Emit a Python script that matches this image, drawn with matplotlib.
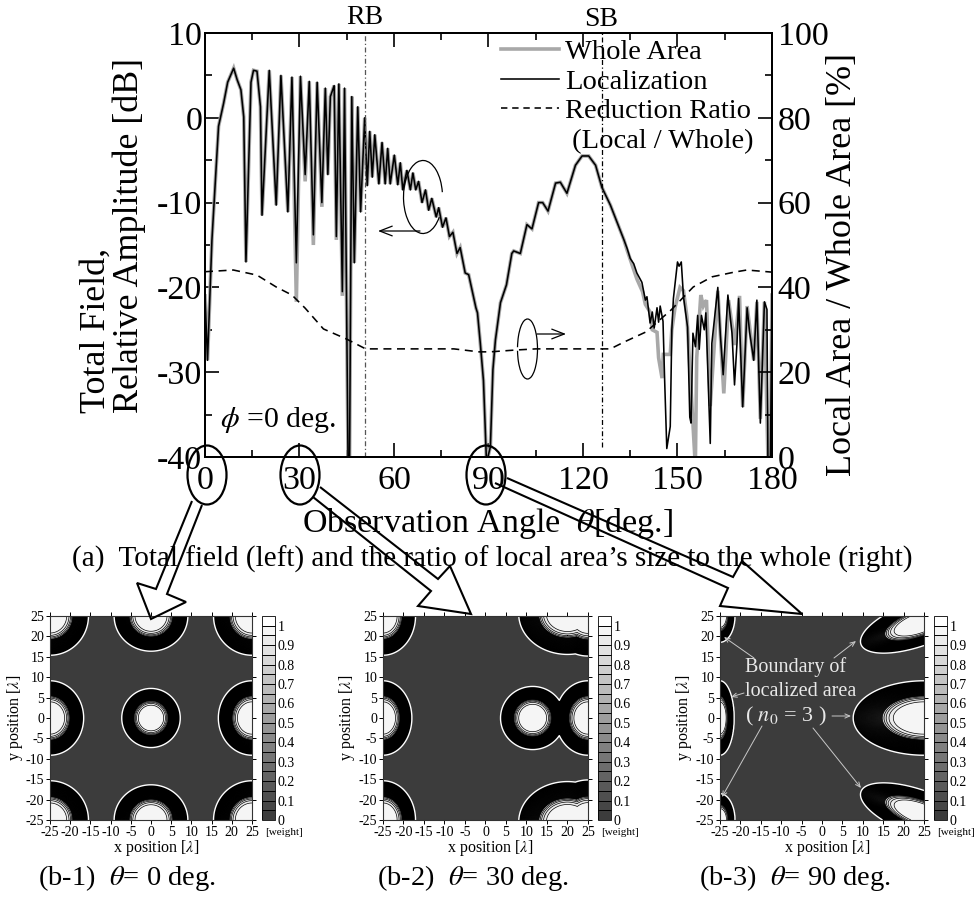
import numpy as np
import matplotlib
matplotlib.use("Agg")
import matplotlib.pyplot as plt
from matplotlib.lines import Line2D
from matplotlib.patches import Arc, Ellipse, Polygon

plt.rcParams['font.family'] = ['Liberation Serif', 'DejaVu Serif']
plt.rcParams['mathtext.fontset'] = 'stix'
plt.rcParams['axes.unicode_minus'] = False

W, H = 979, 897

# total field, localized array
local_theta = [0, 0.8, 2.2, 4.3, 5.9, 7.2, 9.1, 10.2, 11.4, 12.3, 13.0,
               14.6, 15.4, 16.5, 17.6, 18.1, 20.4, 22.6, 24.1, 26.3, 27.6, 29.0, 30.3,
               31.8, 33.1, 34.4, 35.6, 37.1, 38.2, 39.0, 39.8, 41.0, 41.7, 42.5, 43.6,
               44.3, 45.4, 45.9, 46.6, 47.4, 48.5, 49.4, 50.7, 51.5, 52.3, 53.1, 53.9,
               55.2, 56.2, 57.2, 58.0, 58.8, 60.1, 61.2, 62.0, 62.8, 64.1, 65.2, 66.0,
               66.9, 67.8, 68.9, 70.0, 71.0, 72.0, 73.4, 74.2, 75.4, 76.5, 77.6, 78.7,
               80.0, 81.0, 82.6, 83.7, 86.0, 86.5, 87.4, 88.4, 89.3, 89.8, 90.6, 91.4,
               92.2, 93.8, 95.7, 97.4, 98.0, 100.1, 101.2, 102.2, 103.8, 105.9, 107.2,
               108.9, 111.3, 112.8, 114.9, 117.6, 119.7, 121.8, 124.0, 126.0, 128.7,
               130.8, 133.0, 134.0, 135.0, 136.1, 137.1, 138.7, 139.8, 140.3, 141.3,
               142.0, 142.6, 143.5, 144.0, 144.5, 145.4, 145.9, 146.6, 147.7, 148.2,
               148.7, 150.0, 150.5, 151.2, 151.9, 153.2, 153.9, 154.3, 154.9, 155.7,
               156.4, 156.9, 157.6, 158.5, 159.0, 160.4, 160.9, 162.8, 163.6, 164.5,
               166.0, 167.3, 168.1, 168.9, 169.4, 170.7, 172.1, 172.9, 174.2, 175.2,
               176.3, 177.6, 178.4, 178.7, 179.5, 180]
local_db = [-21, -28.6, -14.4, -1, 1.7, 4.2, 5.85, 4.5, 3.3, 0.1, -17,
            4.2, 5.6, 5.5, 1.3, -11.5, 5.6, -10.3, 5, -11.1, 4.8, -17.1, 4.9,
            -6.7, 4.3, -13.8, 4.2, -10, 3.5, -6.7, 2.5, 3.8, -14, 4, -20.5,
            3.5, -40, -40, 2.5, -17.1, 1.3, -11.1, 0, -8, -1.6, -7, -2,
            -7.8, -2.9, -7.8, -3.6, -7.8, -4.4, -7.9, -5.3, -8.5, -6.2, -8.5, -6.5,
            -8.5, -7.5, -10, -8.5, -10.9, -9.5, -11.7, -10.6, -12.9, -11.8, -14, -13.5,
            -16, -15.3, -18.3, -18.5, -22.4, -23, -26.6, -31, -40, -40, -38.8, -29.7,
            -26.2, -21.8, -19.7, -16, -15.7, -16, -14.2, -12.6, -13.1, -10, -10,
            -11, -7.7, -7.6, -8.9, -5.6, -4.5, -4.5, -5.6, -8.2, -10.3,
            -12.3, -14.4, -15.4, -16.6, -17.2, -18.3, -19.4, -21.5, -21.1, -24.2,
            -22.9, -24.8, -22.4, -24.1, -22.2, -24, -30.7, -39, -36.4, -25,
            -21.3, -17, -17.5, -17, -21.1, -24.7, -35.3, -36, -25.4, -27,
            -23.3, -27.3, -23.3, -25, -23, -38.4, -26.6, -20, -25.6, -30.3,
            -20.9, -25.4, -31.5, -26.5, -21.3, -34.1, -22.4, -25.3, -28.6, -21.5,
            -36, -21.7, -22.6, -40, -40, -20.9]

# whole area: same as localized except at some nulls and past 133 deg
whole_null_theta = [29.0, 31.8, 34.4, 37.1, 41.7, 43.6]
whole_null_db = [-21.7, -7.5, -15, -10.5, -14.4, -21]
whole_tail_theta = [133.0, 134.0, 137.1, 138.9, 139.8, 141.3, 142.0, 143.5, 144.0, 145.1, 145.5,
                    147.7, 148.2, 149.2, 150.8, 151.9, 153.0, 154.3, 155.5, 155.7, 156.1, 157.4,
                    158.2, 159.2, 160.4, 162.8, 164.7, 166.2, 168.2, 169.7, 170.7, 172.1,
                    174.2, 175.2, 176.3, 177.6, 178.7, 179.5, 180]
whole_tail_db = [-14.4, -15.6, -19, -20.5, -22, -22.9, -25, -25.3, -28.3, -30.7, -27.9,
                 -27.9, -25, -22.4, -20, -20.4, -23.5, -32, -40, -40, -28.3, -20.9,
                 -22.2, -21.5, -34, -20.4, -32.5, -21.5, -26.8, -21, -34.1, -22.2,
                 -28.6, -21.7, -35.5, -21.7, -40, -40, -20.9]

# reduction ratio, right axis
ratio_theta = [0, 9, 16.5, 22.6, 27.6, 31.8, 37.6, 45, 51, 79, 87, 90.6, 98, 105, 128.7,
               133, 140, 148, 155, 161, 168, 172, 180]
ratio_pct = [43.7, 44.1, 42.9, 40.1, 38.2, 35.1, 30.2, 27.8, 25.5, 25.5, 24.8, 24.8, 25.2,
             25.5, 25.5, 27.1, 29.5, 34.7, 40.1, 42.5, 43.6, 44.1, 43.6]

rb_theta = 50.8
sb_theta = 125.9

# radial shape of a lobe: normalised radius -> weight
lobe_rho = [0, 0.38, 0.43, 0.49, 0.53, 0.56, 0.585, 1.0]
lobe_weight = [0.999, 0.99, 0.95, 0.9, 0.85, 0.8, 0.75, 0.0]

# lobes of each panel: centre x, centre y, semi x, semi y, tilt deg
lobes_b1 = [(0, 0, 7.3, 7.3, 0), (-25, 0, 8.4, 9.2, 0), (25, 0, 8.4, 9.2, 0),
            (0, 25, 9.2, 8.7, 0), (0, -25, 9.2, 8.7, 0),
            (-25, 25, 9.6, 9.7, 0), (25, 25, 9.6, 9.7, 0),
            (-25, -25, 9.6, 9.7, 0), (25, -25, 9.6, 9.7, 0)]
lobes_b2 = [(-25, 0, 7.1, 9.2, 0), (-25, 25, 8, 9.7, 0), (-25, -25, 8, 9.7, 0),
            (11.5, 0, 7.9, 7.8, 0), (25, 0, 8, 9.2, 0),
            (20, 25.5, 12, 10, 0), (25, 25, 9.6, 9.9, 0),
            (20, -25.5, 12, 10, 0), (25, -25, 9.6, 9.9, 0)]
lobes_b3 = [(-25, 0, 3.5, 9.2, 0), (-25, 25, 3.7, 6.5, 0), (-25, -25, 3.7, 6.5, 0),
            (25, 0, 17.5, 9.2, 0), (24, 23.3, 15.5, 5.6, 20), (24, -23.3, 15.5, 5.6, -20)]

panel_ticks = [-25, -20, -15, -10, -5, 0, 5, 10, 15, 20, 25]
panel_captions = ["(b-1)  $\\theta$= 0 deg.", "(b-2)  $\\theta$= 30 deg.", "(b-3)  $\\theta$= 90 deg."]


def px_axes(fig, x0, y0, x1, y1, **kw):
    return fig.add_axes([x0 / W, 1 - y1 / H, (x1 - x0) / W, (y1 - y0) / H], **kw)


def weight_field(lobes, X, Y):
    z = np.zeros_like(X)
    for cx, cy, a, b, tilt in lobes:
        t = np.radians(tilt)
        u = (X - cx) * np.cos(t) + (Y - cy) * np.sin(t)
        v = -(X - cx) * np.sin(t) + (Y - cy) * np.cos(t)
        rho = np.sqrt((u / a) ** 2 + (v / b) ** 2)
        z = np.maximum(z, np.interp(rho, lobe_rho, lobe_weight, right=0))
    return z


fig = plt.figure(figsize=(W / 100, H / 100), dpi=100)

# top chart
ax = px_axes(fig, 205, 33, 772, 457)
ax.set_xlim(0, 180)
ax.set_ylim(-40, 10)
whole_theta = [t for t in local_theta if t < 133] + whole_tail_theta
whole_db = [d for t, d in zip(local_theta, local_db) if t < 133] + whole_tail_db
for t, d in zip(whole_null_theta, whole_null_db):
    whole_db[whole_theta.index(t)] = d
ax.plot(whole_theta, whole_db, color='#a8a8a8', lw=2.6, solid_joinstyle='miter', label='Whole Area')
ax.plot(local_theta, local_db, color='black', lw=1.15, label='Localization')
ax.vlines(rb_theta, -40, 10, color='#555555', lw=0.9, linestyles=(0, (4, 2, 1, 2)))
ax.vlines(sb_theta, -38.8, 10, color='black', lw=0.9, linestyles=(0, (4, 2, 1, 2)))
ax.set_xticks(range(0, 181, 30))
ax.set_xticks(range(15, 180, 30), minor=True)
ax.set_yticks(range(-40, 11, 10))
ax.set_yticks(range(-35, 10, 10), minor=True)
ax.tick_params(which='major', direction='in', length=10, width=1.2, labelsize=24.5, top=True)
ax.tick_params(which='minor', direction='in', length=4.8, width=1.2, top=True)
ax.tick_params(axis='x', pad=6)
ax.tick_params(axis='y', pad=2)
for s in ax.spines.values():
    s.set_linewidth(1.4)

ax2 = ax.twinx()
ax2.set_ylim(0, 100)
ax2.plot(ratio_theta, ratio_pct, color='black', lw=1.15, ls=(0, (5, 3.5)), label='Reduction Ratio')
ax2.set_yticks(range(0, 101, 20))
ax2.set_yticks(range(10, 100, 20), minor=True)
ax2.tick_params(which='major', direction='in', length=10, width=1.2, labelsize=24.5, pad=4)
ax2.tick_params(which='minor', direction='in', length=4.8, width=1.2)
for s in ax2.spines.values():
    s.set_linewidth(1.4)

handles = [Line2D([], [], color='#a8a8a8', lw=2.6),
           Line2D([], [], color='black', lw=1.15),
           Line2D([], [], color='black', lw=1.15, ls=(0, (4, 3))),
           Line2D([], [], color='none')]
ax2.legend(handles, ['Whole Area', 'Localization', 'Reduction Ratio', ' (Local / Whole)'],
           loc='upper left', bbox_to_anchor=((498 - 205) / 567, 0.992), frameon=False, fontsize=20.5,
           labelspacing=0.13, handlelength=2.05, handletextpad=0.22, borderpad=0.1, borderaxespad=0)

# bottom panels
grid = np.linspace(-25, 25, 501)
X, Y = np.meshgrid(grid, grid)
fill_levels = np.arange(0, 1.0501, 0.05)
fill_colors = [str(g) for g in np.linspace(0.235, 1, len(fill_levels) - 1)]
line_levels = np.concatenate([np.arange(0.03, 0.75, 0.012), np.arange(0.75, 0.96, 0.05)])

panel_boxes = [(50, 252, 262, 275), (383, 588, 598, 611), (720, 924, 934, 947)]
for (x0, x1, c0, c1), lobes in zip(panel_boxes, [lobes_b1, lobes_b2, lobes_b3]):
    a = px_axes(fig, x0, 616, x1, 820)
    z = weight_field(lobes, X, Y)
    cs = a.contourf(X, Y, z, levels=fill_levels, colors=fill_colors)
    a.contour(X, Y, z, levels=line_levels, colors='black', linewidths=0.5)
    a.contour(X, Y, z, levels=[0.015], colors='white', linewidths=1.0)
    a.set_xticks(panel_ticks)
    a.set_yticks(panel_ticks)
    a.tick_params(direction='out', length=3, width=0.7, labelsize=10, pad=1, top=True, right=True)
    a.set_xlabel('x position [$\\lambda$]', fontsize=11.5, labelpad=-1)
    a.set_ylabel('y position [$\\lambda$]', fontsize=11.5, labelpad=0)
    a.xaxis.set_label_coords(0.525, -0.087)
    a.yaxis.set_label_coords(-0.125, 0.5)
    for s in a.spines.values():
        s.set_linewidth(0.8)
        s.set_color('#333333')
    cax = px_axes(fig, c0, 616, c1, 820)
    cb = fig.colorbar(cs, cax=cax, ticks=np.arange(0, 1.01, 0.1), drawedges=True)
    cb.ax.set_yticklabels(['0', '0.1', '0.2', '0.3', '0.4', '0.5', '0.6', '0.7', '0.8', '0.9', '1'])
    cb.ax.tick_params(length=0, labelsize=10, pad=2)
    cb.dividers.set_color('black')
    cb.dividers.set_linewidth(0.7)
    cb.outline.set_linewidth(0.6)
    fig.text((c0 + 22) / W, 1 - 832 / H, '[weight]', fontsize=8, ha='center', va='center')

# overlay in pixel coordinates for the hand drawn marks and text
ov = fig.add_axes([0, 0, 1, 1], facecolor='none')
ov.set_xlim(0, W)
ov.set_ylim(H, 0)
ov.axis('off')

for cx in [207, 300, 486]:
    ov.add_patch(Ellipse((cx, 475), 39, 59, fill=False, ec='black', lw=1.6))

arrow_outlines = [
    [(192, 501), (156, 589), (137, 583), (151, 619), (186, 602), (167, 594), (202, 505)],
    [(320, 487), (438, 579), (450, 566), (471, 614), (418, 606), (431, 591), (313, 497)],
    [(507, 478), (733, 577), (742, 561), (802, 614), (720, 606), (728, 588), (495, 483)],
]
for pts in arrow_outlines:
    ov.add_patch(Polygon(pts, closed=False, fill=False, ec='black', lw=1.5, joinstyle='miter'))

ov.add_patch(Arc((423, 197), 39, 73, theta1=51, theta2=346, ec='black', lw=0.9))
ov.add_patch(Arc((527.5, 349), 20, 60, theta1=190, theta2=170 + 360, ec='black', lw=0.9))
ov.annotate('', xy=(378, 231), xytext=(420, 231),
            arrowprops=dict(arrowstyle='->,head_length=0.9,head_width=0.35', lw=0.9, color='black', shrinkA=0, shrinkB=0))
ov.annotate('', xy=(566, 334), xytext=(537, 334),
            arrowprops=dict(arrowstyle='->,head_length=0.9,head_width=0.35', lw=0.9, color='black', shrinkA=0, shrinkB=0))

ov.text(365, 18, 'RB', fontsize=20, ha='center', va='center')
ov.text(601, 20, 'SB', fontsize=20, ha='center', va='center')
ov.text(220, 427, '$\\phi$ =0 deg.', fontsize=21.5, ha='left', va='baseline')
ov.text(80, 413, 'Total Field,', fontsize=25.9, rotation=90, ha='left', va='bottom')
ov.text(112, 413, 'Relative Amplitude [dB]', fontsize=25.9, rotation=90, ha='left', va='bottom')
ov.text(859, 265, 'Local Area / Whole Area [%]', fontsize=26, rotation=90, ha='right', va='center')
ov.text(302, 532, 'Observation Angle  $\\theta$[deg.]', fontsize=24.5, ha='left', va='baseline')
ov.text(72, 567, "(a)  Total field (left) and the ratio of local area\u2019s size to the whole (right)",
        fontsize=21, ha='left', va='baseline')
for cap, xs in zip(panel_captions, [38, 377, 699]):
    ov.text(xs, 885, cap, fontsize=20.5, ha='left', va='baseline')

ov.text(745, 667, 'Boundary of', color='#e8e8e8', fontsize=14.5, ha='left', va='center')
ov.text(745, 691, 'localized area', color='#e8e8e8', fontsize=14.5, ha='left', va='center')
ov.text(745, 716, '( $n_0$ = 3 )', color='#e8e8e8', fontsize=16, ha='left', va='center')
boundary_arrows = [((754, 658), (724, 637)), ((834, 658), (856, 641)), ((744, 693), (731, 697)),
                   ((832, 716), (851, 716)), ((762, 726), (722, 797)), ((813, 728), (861, 788))]
for start, end in boundary_arrows:
    ov.annotate('', xy=end, xytext=start,
                arrowprops=dict(arrowstyle='->,head_length=0.35,head_width=0.15', lw=0.7, color='#c8c8c8',
                                shrinkA=0, shrinkB=0))

fig.savefig('out.png', dpi=100)
